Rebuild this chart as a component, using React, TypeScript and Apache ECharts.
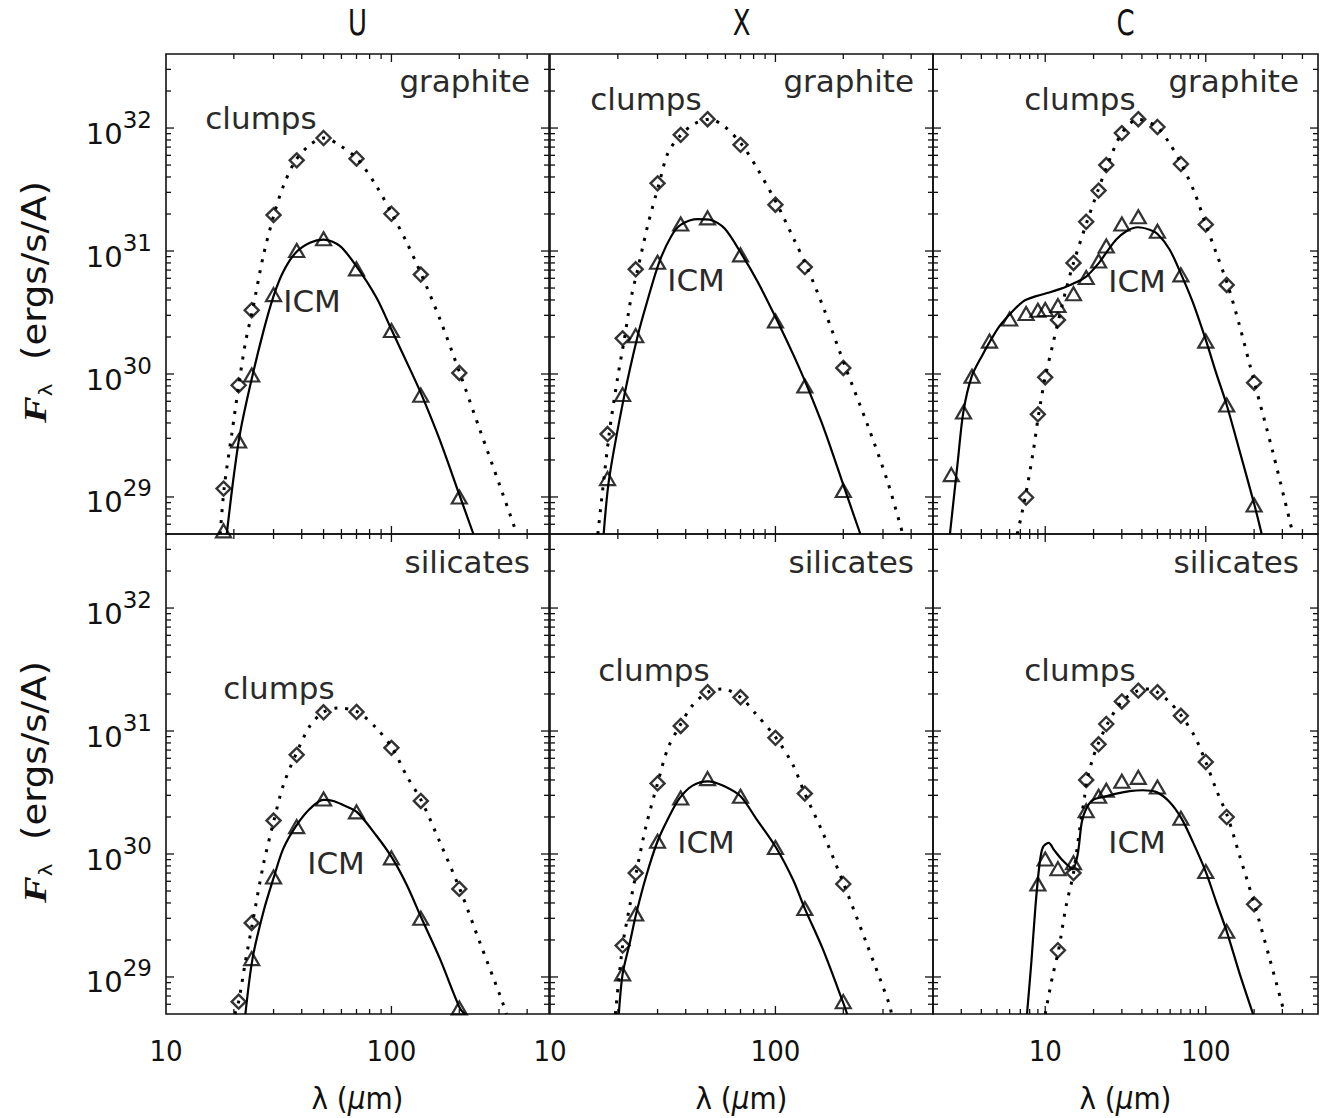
import React, { useEffect, useRef } from "react";
import * as echarts from "echarts";

// ---------------- axes ----------------
const COLUMN_NAMES = ["U", "X", "C"];
const DUST_NAMES = ["graphite", "silicates"];
const X_MIN = [10, 10, 2];
const X_MAX = [500, 500, 500];
const Y_MIN = 5e28;
const Y_MAX = 4e32;
const X_MAJOR_TICKS = [10, 100];
const X_MINOR_TICKS = [2, 3, 4, 5, 6, 7, 8, 9, 20, 30, 40, 50, 60, 70, 80, 90, 200, 300, 400];
const Y_MAJOR_TICKS = [1e29, 1e30, 1e31, 1e32];
const Y_MINOR_TICKS = [
  6e28, 7e28, 8e28, 9e28,
  2e29, 3e29, 4e29, 5e29, 6e29, 7e29, 8e29, 9e29,
  2e30, 3e30, 4e30, 5e30, 6e30, 7e30, 8e30, 9e30,
  2e31, 3e31, 4e31, 5e31, 6e31, 7e31, 8e31, 9e31,
  2e32, 3e32,
];

// ---------------- marker wavelengths (micron) ----------------
const LAM_UX = [18, 21, 24, 30, 38, 50, 70, 100, 135, 200];
const LAM_SIL = [21, 24, 30, 38, 50, 70, 100, 135, 200];
const LAM_U_SIL_ICM = [24, 30, 38, 50, 70, 100, 135, 200];
const LAM_C_GRA_ICM = [2.6, 3.1, 3.5, 4.5, 6, 7.6, 9, 10, 12, 15, 18, 21.5, 24, 30, 38, 50, 70, 100, 135, 200];
const LAM_C_GRA_CLUMPS = [7.6, 9, 10, 12, 15, 18, 21.5, 24, 30, 38, 50, 70, 100, 135, 200];
const LAM_C_SIL_ICM = [9, 10, 12, 15, 18, 21.5, 24, 30, 38, 50, 70, 100, 135];
const LAM_C_SIL_CLUMPS = [12, 15, 18, 21.5, 24, 30, 38, 50, 70, 100, 135, 200];

// ---------------- marker fluxes (ergs/s/A) ----------------
const U_GRA_CLUMPS = [1.17e29, 8.1e29, 3.3e30, 1.96e31, 5.46e31, 8.3e31, 5.64e31, 2.01e31, 6.43e30, 1.02e30];
const U_GRA_ICM = [5.3e28, 2.85e29, 9.8e29, 4.42e30, 1.01e31, 1.26e31, 7.16e30, 2.26e30, 6.73e29, 1.0e29];
const X_GRA_CLUMPS = [3.25e29, 1.95e30, 7.1e30, 3.55e31, 8.8e31, 1.18e32, 7.3e31, 2.38e31, 7.4e30, 1.12e30];
const X_GRA_ICM = [1.41e29, 6.8e29, 2.05e30, 8.1e30, 1.66e31, 1.86e31, 9.3e30, 2.7e30, 8.0e29, 1.13e29];
const C_GRA_ICM = [1.52e29, 4.9e29, 9.6e29, 1.85e30, 2.8e30, 3.1e30, 3.3e30, 3.35e30, 3.6e30, 4.5e30, 6.1e30, 8.3e30, 1.1e31, 1.66e31, 1.9e31, 1.45e31, 6.4e30, 1.85e30, 5.6e29, 8.6e28];
const C_GRA_CLUMPS = [9.9e28, 4.7e29, 9.4e29, 2.75e30, 8.0e30, 1.73e31, 3.1e31, 5.0e31, 9.1e31, 1.18e32, 1.02e32, 5.1e31, 1.64e31, 5.3e30, 8.5e29];
const U_SIL_CLUMPS = [6.3e28, 2.75e29, 1.87e30, 6.4e30, 1.42e31, 1.43e31, 7.3e30, 2.7e30, 5.2e29];
const U_SIL_ICM = [1.41e29, 6.5e29, 1.67e30, 2.8e30, 2.2e30, 9.3e29, 3.0e29, 5.6e28];
const X_SIL_CLUMPS = [1.8e29, 7.0e29, 3.75e30, 1.1e31, 2.07e31, 1.88e31, 8.8e30, 3.1e30, 5.7e29];
const X_SIL_ICM = [1.06e29, 3.25e29, 1.27e30, 2.85e30, 4.1e30, 2.95e30, 1.13e30, 3.6e29, 6.3e28];
const C_SIL_ICM = [5.7e29, 9.1e29, 7.6e29, 8.5e29, 2.25e30, 2.95e30, 3.3e30, 3.9e30, 4.2e30, 3.5e30, 1.95e30, 7.2e29, 2.35e29];
const C_SIL_CLUMPS = [1.65e29, 7.0e29, 4.0e30, 7.8e30, 1.14e31, 1.74e31, 2.13e31, 2.07e31, 1.33e31, 5.6e30, 2.0e30, 3.9e29];

// ---------------- model curves [lambda, flux] ----------------
const U_GRA_ICM_CURVE = [[18.6, 5e28], [19.9, 1.4e29], [21.3, 3.3e29], [23.6, 8.0e29], [27, 2.2e30], [30, 4.3e30], [33, 6.7e30], [37.6, 9.7e30], [43.5, 1.17e31], [50, 1.24e31], [59, 1.1e31], [70, 7.5e30], [86, 4.15e30], [100, 2.3e30], [121, 1.09e30], [136, 6.8e29], [164, 2.9e29], [201, 1.02e29], [231, 5e28]];
const U_GRA_CLUMPS_CURVE = [[17.4, 5e28], [18.1, 1.17e29], [19.6, 3.3e29], [21.0, 8.0e29], [22.5, 1.8e30], [24.2, 3.3e30], [27, 9.1e30], [30.1, 1.96e31], [33.1, 3.35e31], [37.6, 5.46e31], [43.5, 7.3e31], [50.3, 8.3e31], [59.2, 7.2e31], [70.7, 5.6e31], [86, 3.35e31], [100.7, 1.99e31], [117, 1.17e31], [136, 6.4e30], [164, 2.8e30], [201, 1.02e30], [247, 3.5e29], [303, 1.23e29], [360, 5e28]];
const X_GRA_ICM_CURVE = [[17.3, 5e28], [18.3, 1.41e29], [21.4, 6.8e29], [24.5, 2.05e30], [27.1, 4.0e30], [30.5, 8.1e30], [34.5, 1.32e31], [38.1, 1.64e31], [45.3, 1.82e31], [51, 1.8e31], [59.4, 1.53e31], [71.1, 9.3e30], [83.5, 5.6e30], [102, 2.7e30], [121, 1.39e30], [138, 8.0e29], [165, 3.5e29], [204, 1.13e29], [238, 5e28]];
const X_GRA_CLUMPS_CURVE = [[16.3, 5e28], [18.3, 3.25e29], [20, 9.6e29], [21.4, 1.95e30], [22.8, 4.0e30], [24.5, 7.1e30], [27.1, 1.6e31], [30.5, 3.55e31], [33.4, 6.3e31], [38.1, 8.8e31], [43.6, 1.08e32], [51, 1.18e32], [59.4, 1.03e32], [71.1, 7.3e31], [83.5, 4.6e31], [102, 2.38e31], [121, 1.24e31], [138, 7.4e30], [165, 3.3e30], [205, 1.12e30], [257, 3.8e29], [315, 1.32e29], [367, 5e28]];
const C_GRA_ICM_CURVE = [[2.55, 5e28], [2.86, 2.0e29], [3.09, 4.9e29], [3.49, 9.6e29], [4.09, 1.45e30], [4.54, 1.85e30], [5.19, 2.45e30], [6.0, 3.05e30], [7.3, 3.9e30], [8.8, 4.3e30], [10.6, 4.6e30], [12.3, 4.9e30], [14.8, 5.4e30], [18, 6.2e30], [21.6, 8.0e30], [24.4, 1.0e31], [27.7, 1.24e31], [32, 1.45e31], [37.8, 1.56e31], [44.7, 1.49e31], [49.9, 1.38e31], [59.5, 1.03e31], [70.5, 6.4e30], [83.2, 3.8e30], [99.9, 1.9e30], [116, 1.02e30], [135, 5.6e29], [162, 2.4e29], [201, 8.6e28], [223, 5e28]];
const C_GRA_CLUMPS_CURVE = [[6.7, 5e28], [7.5, 9.9e28], [8.4, 2.3e29], [9.1, 4.7e29], [10, 9.4e29], [11.1, 1.7e30], [12.1, 2.75e30], [13.5, 4.9e30], [15, 8.0e30], [18.2, 1.73e31], [21.3, 3.1e31], [24.4, 5.0e31], [30, 9.1e31], [37.8, 1.18e32], [49.6, 1.02e32], [59.5, 7.5e31], [70.5, 5.1e31], [85.5, 2.95e31], [100, 1.64e31], [116, 9.7e30], [137, 5.3e30], [162, 2.5e30], [201, 8.5e29], [262, 2.3e29], [349, 5e28]];
const U_SIL_ICM_CURVE = [[22.5, 5e28], [24.2, 1.41e29], [27, 3.35e29], [30.1, 6.5e29], [33.1, 1.1e30], [37.6, 1.67e30], [43.5, 2.33e30], [49.9, 2.75e30], [55.3, 2.7e30], [61.1, 2.5e30], [70.2, 2.2e30], [86, 1.4e30], [100.7, 9.3e29], [117, 5.6e29], [136, 3.0e29], [164, 1.41e29], [201, 5.6e28], [212, 5e28]];
const U_SIL_CLUMPS_CURVE = [[20.2, 5e28], [21, 6.3e28], [22.5, 1.33e29], [24.2, 2.75e29], [27, 8.1e29], [30.1, 1.87e30], [33.1, 3.6e30], [37.6, 6.4e30], [43.5, 1.1e31], [49.9, 1.42e31], [58.1, 1.54e31], [70.7, 1.43e31], [86, 1.05e31], [100.7, 7.3e30], [117, 4.3e30], [136, 2.7e30], [164, 1.25e30], [201, 5.2e29], [247, 1.9e29], [303, 7.1e28], [324, 5e28]];
const X_SIL_ICM_CURVE = [[20.2, 5e28], [21, 1.06e29], [22.6, 1.9e29], [24.1, 3.25e29], [26.7, 6.6e29], [30, 1.27e30], [33.9, 2.05e30], [37.6, 2.85e30], [42.9, 3.6e30], [50.2, 3.9e30], [58.4, 3.6e30], [70, 2.95e30], [82.1, 1.94e30], [100.6, 1.13e30], [119.6, 6.2e29], [135, 3.6e29], [162, 1.7e29], [199, 6.3e28], [208, 5e28]];
const X_SIL_CLUMPS_CURVE = [[19.5, 5e28], [21, 1.8e29], [22.6, 3.8e29], [24.1, 7.0e29], [26.7, 1.7e30], [30, 3.75e30], [33.3, 7.2e30], [37.6, 1.1e31], [42.9, 1.62e31], [50.2, 2.07e31], [58.4, 2.2e31], [70, 1.88e31], [82.1, 1.37e31], [100.6, 8.8e30], [119.6, 5.3e30], [135, 3.1e30], [162, 1.5e30], [201, 5.7e29], [253, 1.9e29], [321, 5.9e28], [327, 5e28]];
const C_SIL_ICM_CURVE = [[7.7, 5e28], [8.2, 1.33e29], [8.7, 3.8e29], [9.2, 8.1e29], [9.66, 1.13e30], [10.5, 1.23e30], [11.4, 1.07e30], [12.9, 8.8e29], [14.8, 7.6e29], [15.9, 9.8e29], [16.9, 1.82e30], [18, 2.33e30], [19.8, 2.75e30], [22.8, 2.9e30], [27.7, 3.1e30], [33.5, 3.25e30], [40.6, 3.3e30], [49, 3.2e30], [59.5, 2.65e30], [70.5, 1.95e30], [83.2, 1.25e30], [99.9, 7.2e29], [116, 4.1e29], [135, 2.35e29], [162, 1.08e29], [197, 5e28]];
const C_SIL_CLUMPS_CURVE = [[10, 5e28], [11.1, 1.01e29], [12.1, 1.65e29], [13.5, 3.8e29], [15, 7.0e29], [16.4, 1.6e30], [17.6, 2.95e30], [18.2, 4.0e30], [19.8, 6.0e30], [21.3, 7.8e30], [24.4, 1.14e31], [30, 1.74e31], [37.8, 2.13e31], [44.7, 2.2e31], [49.9, 2.07e31], [59.5, 1.72e31], [70.5, 1.33e31], [85.5, 9.0e30], [100, 5.6e30], [116, 3.35e30], [137, 2.0e30], [162, 9.8e29], [201, 3.9e29], [250, 1.41e29], [310, 5e28]];

// ---------------- layout (pixels) ----------------
const GRID_LEFT = [166, 550, 933];
const GRID_WIDTH = [383, 383, 385];
const GRID_TOP = [54, 534];
const GRID_HEIGHT = 480;

const SANS = "'DejaVu Sans', 'Liberation Sans', sans-serif";
const NARROW = "'Liberation Sans Narrow', 'DejaVu Sans Condensed', 'Liberation Sans', sans-serif";
const SERIF = "'Liberation Serif', 'DejaVu Serif', serif";
const INK = "#111";
const LABEL_INK = "#2a2a2a";

const PANELS = [
  { row: 0, col: 0, clumpsCurve: U_GRA_CLUMPS_CURVE, icmCurve: U_GRA_ICM_CURVE, clumpsLam: LAM_UX, clumpsF: U_GRA_CLUMPS, icmLam: LAM_UX, icmF: U_GRA_ICM, clumpsPos: [261, 118], icmPos: [312, 301] },
  { row: 0, col: 1, clumpsCurve: X_GRA_CLUMPS_CURVE, icmCurve: X_GRA_ICM_CURVE, clumpsLam: LAM_UX, clumpsF: X_GRA_CLUMPS, icmLam: LAM_UX, icmF: X_GRA_ICM, clumpsPos: [646, 99], icmPos: [696, 280] },
  { row: 0, col: 2, clumpsCurve: C_GRA_CLUMPS_CURVE, icmCurve: C_GRA_ICM_CURVE, clumpsLam: LAM_C_GRA_CLUMPS, clumpsF: C_GRA_CLUMPS, icmLam: LAM_C_GRA_ICM, icmF: C_GRA_ICM, clumpsPos: [1080, 99], icmPos: [1137, 281] },
  { row: 1, col: 0, clumpsCurve: U_SIL_CLUMPS_CURVE, icmCurve: U_SIL_ICM_CURVE, clumpsLam: LAM_SIL, clumpsF: U_SIL_CLUMPS, icmLam: LAM_U_SIL_ICM, icmF: U_SIL_ICM, clumpsPos: [279, 688], icmPos: [336, 863] },
  { row: 1, col: 1, clumpsCurve: X_SIL_CLUMPS_CURVE, icmCurve: X_SIL_ICM_CURVE, clumpsLam: LAM_SIL, clumpsF: X_SIL_CLUMPS, icmLam: LAM_SIL, icmF: X_SIL_ICM, clumpsPos: [654, 670], icmPos: [706, 842] },
  { row: 1, col: 2, clumpsCurve: C_SIL_CLUMPS_CURVE, icmCurve: C_SIL_ICM_CURVE, clumpsLam: LAM_C_SIL_CLUMPS, clumpsF: C_SIL_CLUMPS, icmLam: LAM_C_SIL_ICM, icmF: C_SIL_ICM, clumpsPos: [1080, 670], icmPos: [1137, 842] },
];

function tickData(col: number) {
  const xmin = X_MIN[col];
  const xmax = X_MAX[col];
  const inX = (v: number) => v > xmin && v < xmax;
  const inY = (v: number) => v > Y_MIN && v < Y_MAX;
  return [
    ...X_MAJOR_TICKS.filter(inX).map((v) => [v, Y_MIN, 0]),
    ...X_MINOR_TICKS.filter(inX).map((v) => [v, Y_MIN, 1]),
    ...Y_MAJOR_TICKS.filter(inY).map((v) => [xmin, v, 2]),
    ...Y_MINOR_TICKS.filter(inY).map((v) => [xmin, v, 3]),
  ];
}

function renderTick(params: any, api: any) {
  const kind = api.value(2);
  const p = api.coord([api.value(0), api.value(1)]);
  const cs = params.coordSys;
  const len = kind % 2 === 0 ? 8 : 5;
  const style = { stroke: INK, lineWidth: 1.3 };
  if (kind < 2) {
    const x = p[0];
    const b = cs.y + cs.height;
    return {
      type: "group",
      children: [
        { type: "line", shape: { x1: x, y1: b, x2: x, y2: b - len }, style },
        { type: "line", shape: { x1: x, y1: cs.y, x2: x, y2: cs.y + len }, style },
      ],
    };
  }
  const y = p[1];
  const r = cs.x + cs.width;
  return {
    type: "group",
    children: [
      { type: "line", shape: { x1: cs.x, y1: y, x2: cs.x + len, y2: y }, style },
      { type: "line", shape: { x1: r, y1: y, x2: r - len, y2: y }, style },
    ],
  };
}

function buildOption() {
  const grid: any[] = [];
  const xAxis: any[] = [];
  const yAxis: any[] = [];
  const series: any[] = [];
  const graphic: any[] = [];

  PANELS.forEach((p, i) => {
    grid.push({
      left: GRID_LEFT[p.col],
      top: GRID_TOP[p.row],
      width: GRID_WIDTH[p.col],
      height: GRID_HEIGHT,
      show: true,
      borderColor: INK,
      borderWidth: 1.6,
      backgroundColor: "transparent",
    });
    xAxis.push({
      type: "log",
      logBase: 10,
      gridIndex: i,
      min: X_MIN[p.col],
      max: X_MAX[p.col],
      axisLine: { show: false },
      axisTick: { show: false },
      splitLine: { show: false },
      axisLabel: {
        show: p.row === 1,
        showMinLabel: p.col < 2,
        showMaxLabel: false,
        margin: 22,
        color: INK,
        fontFamily: NARROW,
        fontSize: 29,
        formatter: (v: number) => String(Math.round(v)),
      },
    });
    yAxis.push({
      type: "log",
      logBase: 10,
      gridIndex: i,
      min: Y_MIN,
      max: Y_MAX,
      axisLine: { show: false },
      axisTick: { show: false },
      splitLine: { show: false },
      axisLabel: {
        show: p.col === 0,
        showMinLabel: false,
        showMaxLabel: false,
        margin: 14,
        color: INK,
        formatter: (v: number) => `{b|10}{s|${Math.round(Math.log10(v))}}`,
        rich: {
          b: { fontFamily: SANS, fontSize: 29, lineHeight: 40, verticalAlign: "bottom", color: INK },
          s: { fontFamily: SANS, fontSize: 23, lineHeight: 40, verticalAlign: "top", color: INK },
        },
      },
    });

    series.push({
      type: "line",
      name: "clumps model",
      xAxisIndex: i,
      yAxisIndex: i,
      data: p.clumpsCurve,
      showSymbol: false,
      symbol: "none",
      smooth: 0.3,
      silent: true,
      lineStyle: { color: "#000", width: 3, type: [3, 8], cap: "butt" },
      z: 2,
    });
    series.push({
      type: "line",
      name: "ICM model",
      xAxisIndex: i,
      yAxisIndex: i,
      data: p.icmCurve,
      showSymbol: false,
      symbol: "none",
      smooth: 0.3,
      silent: true,
      lineStyle: { color: "#000", width: 2.2 },
      z: 2,
    });
    series.push({
      type: "scatter",
      name: "clumps",
      xAxisIndex: i,
      yAxisIndex: i,
      data: p.clumpsLam.map((l, k) => [l, p.clumpsF[k]]),
      symbol: "diamond",
      symbolSize: [14, 14],
      itemStyle: { color: "rgba(255,255,255,0)", borderColor: "#000", borderWidth: 2.4 },
      z: 3,
    });
    series.push({
      type: "scatter",
      name: "ICM",
      xAxisIndex: i,
      yAxisIndex: i,
      data: p.icmLam.map((l, k) => [l, p.icmF[k]]),
      symbol: "triangle",
      symbolSize: [15, 13],
      itemStyle: { color: "rgba(255,255,255,0)", borderColor: "#000", borderWidth: 2.2 },
      z: 3,
    });
    series.push({
      type: "custom",
      xAxisIndex: i,
      yAxisIndex: i,
      data: tickData(p.col),
      renderItem: renderTick,
      silent: true,
      z: 5,
    });

    const right = GRID_LEFT[p.col] + GRID_WIDTH[p.col] - 19;
    graphic.push({
      type: "text",
      x: right,
      y: GRID_TOP[p.row] + (p.row === 0 ? 27 : 28),
      style: { text: DUST_NAMES[p.row], fill: LABEL_INK, fontFamily: SANS, fontSize: 31, align: "right", verticalAlign: "middle" },
    });
    graphic.push({
      type: "text",
      x: p.clumpsPos[0],
      y: p.clumpsPos[1],
      style: { text: "clumps", fill: LABEL_INK, fontFamily: SANS, fontSize: 31, align: "center", verticalAlign: "middle" },
    });
    graphic.push({
      type: "text",
      x: p.icmPos[0],
      y: p.icmPos[1],
      style: { text: "ICM", fill: LABEL_INK, fontFamily: SANS, fontSize: 31, align: "center", verticalAlign: "middle" },
    });
  });

  COLUMN_NAMES.forEach((name, c) => {
    const cx = GRID_LEFT[c] + GRID_WIDTH[c] / 2;
    graphic.push({
      type: "text",
      x: cx,
      y: 23,
      scaleX: 0.8,
      style: { text: name, fill: INK, fontFamily: NARROW, fontSize: 36, align: "center", verticalAlign: "middle" },
    });
    graphic.push({
      type: "text",
      x: cx,
      y: 1098,
      style: {
        text: "{n|λ (}{m|μ}{n|m)}",
        align: "center",
        verticalAlign: "middle",
        rich: {
          n: { fontFamily: NARROW, fontSize: 31, fill: INK },
          m: { fontFamily: NARROW, fontSize: 31, fontStyle: "italic", fill: INK },
        },
      },
    });
  });

  [0, 1].forEach((r) => {
    graphic.push({
      type: "text",
      x: 35,
      y: GRID_TOP[r] + GRID_HEIGHT / 2 + 8,
      rotation: Math.PI / 2,
      scaleX: 1.25,
      style: {
        text: "{f|F}{l|λ}{n|  (ergs/s/A)}",
        align: "center",
        verticalAlign: "middle",
        rich: {
          f: { fontFamily: SERIF, fontStyle: "italic", fontWeight: "bold", fontSize: 32, fill: INK, lineHeight: 40, verticalAlign: "middle" },
          l: { fontFamily: SANS, fontSize: 17, fill: INK, lineHeight: 40, verticalAlign: "bottom" },
          n: { fontFamily: NARROW, fontSize: 33, fill: INK, lineHeight: 40, verticalAlign: "middle" },
        },
      },
    });
  });

  return {
    animation: false,
    backgroundColor: "#fff",
    grid,
    xAxis,
    yAxis,
    series,
    graphic,
  };
}

export default function App() {
  const ref = useRef<HTMLDivElement>(null);
  useEffect(() => {
    if (!ref.current) return;
    const chart = echarts.init(ref.current, null, { renderer: "svg" });
    chart.setOption(buildOption() as any);
    return () => chart.dispose();
  }, []);
  return (
    <div
      ref={ref}
      style={{ position: "absolute", left: 0, top: 0, width: 1330, height: 1118, background: "#fff" }}
    />
  );
}
